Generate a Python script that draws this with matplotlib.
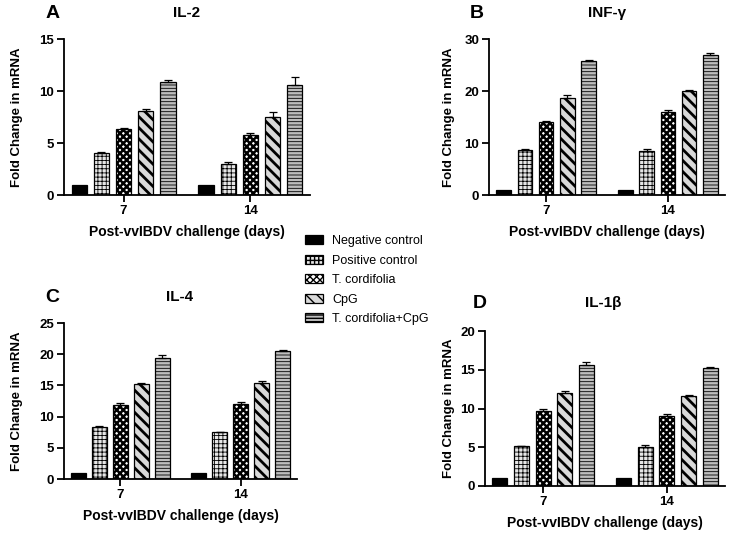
import numpy as np
import matplotlib
matplotlib.use("Agg")
import matplotlib.pyplot as plt
from matplotlib.patches import Patch

plt.rcParams['font.family'] = ['Liberation Sans', 'DejaVu Sans']
plt.rcParams['hatch.linewidth'] = 1.0

# ---------------- data ----------------
days = ['7', '14']
series = ['Negative control', 'Positive control', 'T. cordifolia', 'CpG', 'T. cordifolia+CpG']

il2_mean = [[1, 1], [4.0, 3.0], [6.35, 5.8], [8.1, 7.5], [10.85, 10.6]]
il2_err = [[0, 0], [0.15, 0.2], [0.12, 0.2], [0.15, 0.5], [0.2, 0.7]]

inf_mean = [[1, 1], [8.6, 8.5], [14.0, 15.9], [18.7, 20.0], [25.7, 26.9]]
inf_err = [[0, 0], [0.3, 0.4], [0.2, 0.5], [0.5, 0.1], [0.35, 0.4]]

il4_mean = [[1, 1], [8.3, 7.5], [11.9, 12.0], [15.3, 15.4], [19.4, 20.5]]
il4_err = [[0, 0], [0.25, 0.1], [0.3, 0.3], [0.1, 0.25], [0.4, 0.15]]

il1b_mean = [[1, 1], [5.1, 5.0], [9.7, 9.0], [12.0, 11.65], [15.6, 15.25]]
il1b_err = [[0, 0], [0.1, 0.3], [0.25, 0.35], [0.2, 0.07], [0.45, 0.1]]

panels = [
    dict(letter='A', title='IL-2', mean=il2_mean, err=il2_err, ylim=15, yticks=[0, 5, 10, 15],
         box=(64, 39, 310, 195), letter_xy=(53, 13), title_xy=(187, 13)),
    dict(letter='B', title='INF-γ', mean=inf_mean, err=inf_err, ylim=30, yticks=[0, 10, 20, 30],
         box=(489, 39, 725, 195), letter_xy=(477, 13), title_xy=(607, 13)),
    dict(letter='C', title='IL-4', mean=il4_mean, err=il4_err, ylim=25, yticks=[0, 5, 10, 15, 20, 25],
         box=(64, 323, 297, 479), letter_xy=(52, 297), title_xy=(180, 297)),
    dict(letter='D', title='IL-1β', mean=il1b_mean, err=il1b_err, ylim=20, yticks=[0, 5, 10, 15, 20],
         box=(485, 331, 725, 486), letter_xy=(480, 303), title_xy=(603, 303)),
]

# styles per series: facecolor, hatch, hatch linewidth
styles = [
    dict(fc='black', hatch=None, hlw=1.0),
    dict(fc='#e6e6e6', hatch='++++', hlw=0.6),
    dict(fc='white', hatch='xxxxx', hlw=1.8),
    dict(fc='#d9d9d9', hatch='\\\\\\', hlw=2.0),
    dict(fc='#bdbdbd', hatch='-----', hlw=0.6),
]

W, H = 733, 537
fig = plt.figure(figsize=(W / 100, H / 100), dpi=100)

pitch = 0.175
bw = 0.12
x = np.arange(len(days))

def fx(px):
    return px / W

def fy(py):
    return 1 - py / H

for p in panels:
    l, t, r, b = p['box']
    ax = fig.add_axes([fx(l), fy(b), (r - l) / W, (b - t) / H])
    for i, (st, m, e) in enumerate(zip(styles, p['mean'], p['err'])):
        xs = x + (i - 2) * pitch
        with plt.rc_context({'hatch.linewidth': st['hlw']}):
            bars = ax.bar(xs, m, width=bw, color=st['fc'], edgecolor='black', linewidth=0.9,
                          hatch=st['hatch'], zorder=2)
        if i > 0:
            ax.errorbar(xs, m, yerr=[np.zeros(len(e)), e], fmt='none', ecolor='black',
                        elinewidth=0.9, capsize=3, capthick=0.9, zorder=3)
    ax.set_xlim(-2 * pitch - bw / 2 - 0.06, 1 + 2 * pitch + bw / 2 + 0.06)
    ax.set_ylim(0, p['ylim'])
    ax.set_yticks(p['yticks'])
    ax.set_xticks(x)
    ax.set_xticklabels(days)
    for s in ['top', 'right']:
        ax.spines[s].set_visible(False)
    for s in ['left', 'bottom']:
        ax.spines[s].set_linewidth(1.3)
    ax.tick_params(axis='both', direction='out', length=5, width=1.3, labelsize=9.5, pad=2)
    for lab in ax.get_xticklabels() + ax.get_yticklabels():
        lab.set_fontweight('bold')
    hpx = b - t
    wpx = r - l
    ax.text(0.5, -37 / hpx, 'Post-vvIBDV challenge (days)', transform=ax.transAxes,
            ha='center', va='center', fontsize=10, fontweight='bold')
    ax.text(-(l - (17 if l < 300 else 449)) / wpx, 0.5, 'Fold Change in mRNA', transform=ax.transAxes,
            ha='center', va='center', rotation=90, fontsize=9.5, fontweight='bold')
    fig.text(fx(p['letter_xy'][0]), fy(p['letter_xy'][1]), p['letter'], ha='center', va='center',
             fontsize=14, fontweight='bold')
    fig.text(fx(p['title_xy'][0]), fy(p['title_xy'][1]), p['title'], ha='center', va='center',
             fontsize=11, fontweight='bold')

handles = []
for st in styles:
    with plt.rc_context({'hatch.linewidth': st['hlw']}):
        h = Patch(facecolor=st['fc'], edgecolor='black', linewidth=0.9, hatch=st['hatch'])
    handles.append(h)

fig.legend(handles, series, loc='center left', bbox_to_anchor=(fx(305), fy(280)),
           frameon=False, fontsize=9, handlelength=1.4, handleheight=0.7,
           handletextpad=0.8, labelspacing=0.6, borderpad=0, borderaxespad=0)

fig.savefig('out.png', dpi=100)
